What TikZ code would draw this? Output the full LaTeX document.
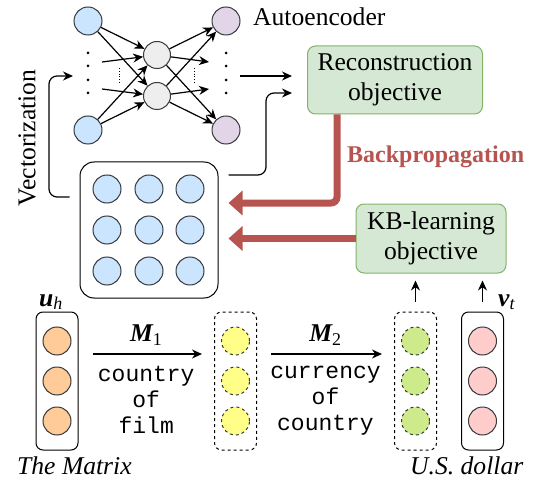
\documentclass[tikz,border=0pt]{standalone}
\usepackage{fontspec}
\setmainfont{Liberation Serif}
\setmonofont{Liberation Mono}
\usetikzlibrary{arrows.meta}

\definecolor{nblue}{HTML}{CCE5FF}
\definecolor{ngray}{HTML}{EEEEEE}
\definecolor{npurple}{HTML}{E1D5E7}
\definecolor{norange}{HTML}{FFCC99}
\definecolor{nyellow}{HTML}{FFFF88}
\definecolor{ngreen}{HTML}{CDEB8B}
\definecolor{npink}{HTML}{FFCCCC}
\definecolor{nstroke}{HTML}{36393D}
\definecolor{objfill}{HTML}{D5E8D4}
\definecolor{objdraw}{HTML}{82B366}
\definecolor{bpred}{HTML}{B85450}

\tikzset{
  neuron/.style={circle, draw=nstroke, line width=1pt, minimum size=28pt, inner sep=0pt},
  objbox/.style={draw=objdraw, fill=objfill, line width=1pt, rounded corners=8pt, align=center},
  vecbox/.style={draw, line width=1pt, rounded corners=7pt, minimum width=42pt, minimum height=138pt, inner sep=0pt},
  lbl/.style={inner sep=0pt},
  arr/.style={-{Stealth[length=10pt,width=9pt]}, line width=1.2pt},
  bp/.style={-{Triangle[length=14pt,width=24pt]}, line width=7pt, draw=bpred},
  relname/.style={font=\ttfamily\fontsize{23}{26}\selectfont, align=center}
}

\begin{document}
\begin{tikzpicture}[x=1pt, y=-1pt, font=\fontsize{25.6}{30}\selectfont]
    \useasboundingbox (0,0) rectangle (535,481);
    % autoencoder
    \node[neuron, fill=nblue] (in0) at (88,21) {};
    \node[neuron, fill=nblue] (in1) at (88,130) {};
    \node[neuron, fill=ngray, minimum size=27pt] (hid0) at (157,55) {};
    \node[neuron, fill=ngray, minimum size=27pt] (hid1) at (157,96) {};
    \node[neuron, fill=npurple] (out0) at (226,21) {};
    \node[neuron, fill=npurple] (out1) at (226,130) {};
    \foreach \y in {53,66,80,93} {
        \fill (88,\y) circle (1.5pt);
        \fill (226,\y) circle (1.5pt);
    }
    \draw[dotted, line width=0.8pt] (119,68) -- (119,84);
    \draw[dotted, line width=0.8pt] (194,68) -- (194,84);
    \coordinate (indots) at (88,76);
    \coordinate (outdots) at (226,76);
    \coordinate (din0) at (102,62);
    \coordinate (din1) at (102,89);
    \coordinate (dout0) at (209,62);
    \coordinate (dout1) at (209,89);
    \foreach \s in {in0,in1}
        \foreach \t in {hid0,hid1}
            \draw[arr] (\s) -- (\t);
    \foreach \s in {hid0,hid1}
        \foreach \t in {out0,out1}
            \draw[arr] (\s) -- (\t);
    \draw[arr] (din0) -- (hid0);
    \draw[arr] (din1) -- (hid1);
    \draw[arr] (hid0) -- (dout0);
    \draw[arr] (hid1) -- (dout1);
    \node[lbl, anchor=base west] (aelabel) at (253,26) {Autoencoder};

    % objectives
    \node[objbox, minimum width=175pt, minimum height=68pt] (recon) at (395,80) {Reconstruction\\objective};
    \node[objbox, minimum width=150pt, minimum height=69pt] (kb) at (431,238.5) {KB-learning\\objective};

    % entity matrix
    \node[draw, line width=1pt, rounded corners=14pt, minimum width=138pt, minimum height=136pt] (grid) at (149,230) {};
    \foreach \i/\x in {0/107,1/149,2/190}
        \foreach \j/\y in {0/189,1/230,2/271}
            \node[neuron, fill=nblue] (g\i\j) at (\x,\y) {};

    % vectorization and reconstruction links
    \node[rotate=90] (veclabel) at (27,138) {Vectorization};
    \draw[arr, rounded corners=8pt] ([xshift=-10pt, yshift=33pt]grid.west) -| (49,120) |- ([xshift=-15pt]indots);
    \draw[arr, shorten >=15pt] ([xshift=14pt]outdots) -- (recon.west |- outdots);
    \draw[arr, rounded corners=8pt] ([xshift=10pt, yshift=55pt]grid.east) -| (266,130) |- ([xshift=-15pt, yshift=-13pt]recon.west);

    % backpropagation
    \draw[bp, rounded corners=6pt, shorten >=10pt] ([xshift=-58pt]recon.south) |- ([yshift=27pt]grid.east);
    \draw[bp, shorten >=10pt] (kb.west) -- (kb.west -| grid.east);
    \node[lbl, anchor=base west, text=bpred, font=\bfseries\fontsize{24}{28}\selectfont] (bplabel) at (347,163) {Backpropagation};

    % embeddings
    \node[vecbox] (uh) at (57,381) {};
    \node[vecbox, dashed] (mid1) at (235.5,381) {};
    \node[vecbox, dashed] (mid2) at (415.5,381) {};
    \node[vecbox] (vt) at (482.5,381) {};
    \foreach \k/\y in {0/341,1/381,2/421} {
        \node[neuron, fill=norange] (uh\k) at (57,\y) {};
        \node[neuron, dashed, fill=nyellow] (ma\k) at (235.5,\y) {};
        \node[neuron, dashed, fill=ngreen] (mb\k) at (415.5,\y) {};
        \node[neuron, fill=npink] (vt\k) at (482.5,\y) {};
    }
    \draw[arr, shorten <=14pt, shorten >=12pt] ([yshift=27pt]uh.east) -- ([yshift=27pt]mid1.west)
        node[midway, above=5pt] {\bfseries\itshape M\textsubscript{\normalfont 1}}
        node[midway, below=8pt, relname] {country\\of\\film};
    \draw[arr, shorten <=14pt, shorten >=12pt] ([yshift=27pt]mid1.east) -- ([yshift=27pt]mid2.west)
        node[midway, above=5pt] {\bfseries\itshape M\textsubscript{\normalfont 2}}
        node[midway, below=8pt, relname] {currency\\of\\country};
    \draw[arr, shorten <=10pt, shorten >=7pt] (mid2.north) -- (mid2.north |- kb.south);
    \draw[arr, shorten <=10pt, shorten >=7pt] (vt.north) -- (vt.north |- kb.south);
    \node[lbl, anchor=base] (uhlabel) at (51,306) {\bfseries\itshape u\textsubscript{\mdseries h}};
    \node[lbl, anchor=base west] (vtlabel) at (498,306) {\bfseries\itshape v\textsubscript{\mdseries t}};
    \node[lbl, anchor=base west] (uhname) at (17,474) {\itshape The Matrix};
    \node[lbl, anchor=base west] (vtname) at (410,474) {\itshape U.S. dollar};
\end{tikzpicture}
\end{document}
